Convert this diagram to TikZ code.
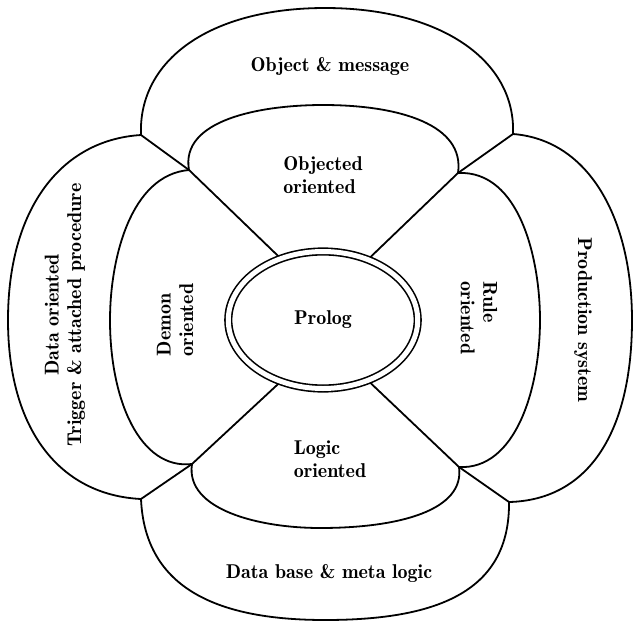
\documentclass[tikz,border=0pt]{standalone}
\usepackage{fontspec}
\newfontfamily\lblfont{lmromandemi10-regular.otf}
\usetikzlibrary{shapes.geometric}
\begin{document}
\begin{tikzpicture}[x=1pt,y=-1pt,line width=1.8pt,line join=round,
  lbl/.style={font=\fontsize{20}{22.5}\lblfont,inner sep=0pt},
  petal/.style={draw=black,line width=1.8pt}]
\useasboundingbox (0,0) rectangle (633,625);
% junctions
\coordinate (oTL) at (141,135);
\coordinate (oTR) at (513,134);
\coordinate (oBL) at (141,499);
\coordinate (oBR) at (509,502);
\coordinate (iTL) at (189,170);
\coordinate (iTR) at (458,173);
\coordinate (iBL) at (192,464);
\coordinate (iBR) at (459,467);
% central double ellipse
\node[ellipse,draw,double,double distance=5pt,line width=1.6pt,fill=white,
  minimum width=189.4pt,minimum height=137pt,inner sep=0pt,outer sep=3.3pt,
  lbl] (prolog) at (323,320) {Prolog};
% outer petals
\draw[petal] (oTL) .. controls (138,60) and (210,8) .. (325,8)
  .. controls (440,8) and (516,60) .. (oTR);
\draw[petal] (oTL) .. controls (60,140) and (8,210) .. (8,320)
  .. controls (8,430) and (60,495) .. (oBL);
\draw[petal] (oTR) .. controls (590,140) and (632,220) .. (632,320)
  .. controls (632,430) and (590,500) .. (oBR);
\draw[petal] (oBL) .. controls (145,590) and (220,620) .. (325,620)
  .. controls (440,620) and (510,590) .. (oBR);
% inner petals
\draw[petal] (iTL) .. controls (180,120) and (260,105) .. (323,105)
  .. controls (400,105) and (465,125) .. (iTR);
\draw[petal] (iTL) .. controls (130,175) and (110,260) .. (110,320)
  .. controls (110,400) and (140,470) .. (iBL);
\draw[petal] (iTR) .. controls (520,170) and (540,260) .. (540,320)
  .. controls (540,390) and (515,470) .. (iBR);
\draw[petal] (iBL) .. controls (185,510) and (260,528) .. (320,528)
  .. controls (400,528) and (465,510) .. (iBR);
% diagonals
\draw[petal] (oTL) -- (iTL) -- (prolog.125);
\draw[petal] (oTR) -- (iTR) -- (prolog.53);
\draw[petal] (oBL) -- (iBL) -- (prolog.235);
\draw[petal] (oBR) -- (iBR) -- (prolog.307);
% labels
\node[lbl] (objmsg) at (330,66) {Object \& message};
\node[lbl,align=left] (objor) at (323,175) {Objected\\oriented};
\node[lbl,align=left] (logor) at (330,459) {Logic\\oriented};
\node[lbl] (dbml) at (329,573) {Data base \& meta logic};
\node[lbl,align=left,rotate=90] (demon) at (175,320) {Demon\\oriented};
\node[lbl,align=center,rotate=90] (data) at (65,315) {Data oriented\\Trigger \& attached procedure};
\node[lbl,align=left,rotate=-90] (rule) at (479,318) {Rule\\oriented};
\node[lbl,rotate=-90] (prod) at (583,320) {Production system};
\end{tikzpicture}
\end{document}
